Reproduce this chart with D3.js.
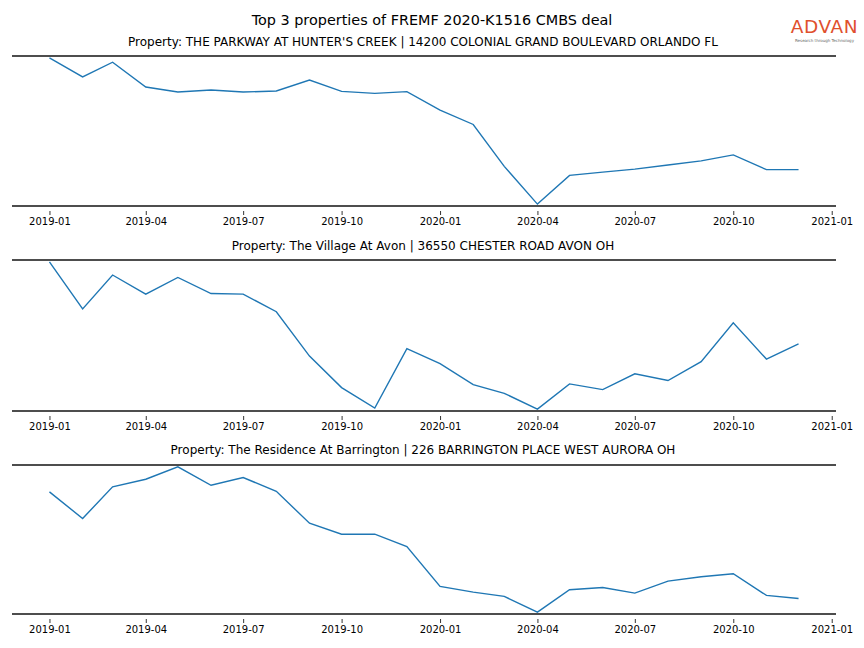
<!DOCTYPE html>
<html><head><meta charset="utf-8">
<script src="https://cdn.jsdelivr.net/npm/d3@7"></script>
<style>body{margin:0;background:#fff}svg{display:block}text{font-family:"DejaVu Sans",sans-serif}</style>
</head><body><svg id="c" width="864" height="648"></svg>
<script>
const mainTitle = "Top 3 properties of FREMF 2020-K1516 CMBS deal";
const months = ["2019-01","2019-02","2019-03","2019-04","2019-05","2019-06","2019-07","2019-08","2019-09","2019-10","2019-11","2019-12",
  "2020-01","2020-02","2020-03","2020-04","2020-05","2020-06","2020-07","2020-08","2020-09","2020-10","2020-11","2020-12"];
const tickLabels = ["2019-01","2019-04","2019-07","2019-10","2020-01","2020-04","2020-07","2020-10","2021-01"];
const titles = [
  "Property: THE PARKWAY AT HUNTER'S CREEK | 14200 COLONIAL GRAND BOULEVARD ORLANDO FL",
  "Property: The Village At Avon | 36550 CHESTER ROAD AVON OH",
  "Property: The Residence At Barrington | 226 BARRINGTON PLACE WEST AURORA OH"
];
// relative activity index
const parkway = [147.3,128.3,143,118.3,113.3,115.3,113.3,114.3,125.3,114,112,113.7,95.3,81,39.3,1.7,30.3,33.5,36.5,40.7,44.7,50.7,36,36];
const avon = [148.7,102,135.7,116.7,133.3,117.3,116.7,99.3,55.3,24,3.7,62.7,47.7,27,18.3,2.7,27.7,22,37.7,31,49.7,88.3,52.3,67.3];
const barrington = [121.7,95,126.7,134.3,146.7,128.3,136,122.3,90.3,79.3,79.3,67,27,21.3,17,1.3,23.7,26,20.3,32.3,36.7,39.7,18,15];
const seriesList = [parkway, avon, barrington];

const svg = d3.select("#c");
const parse = d3.timeParse("%Y-%m");
const dates = months.map(parse);
const t0 = dates[0], t1 = dates[dates.length-1];
const span = t1 - t0;
const x = d3.scaleTime().domain([new Date(+t0 - span*0.05), new Date(+t1 + span*0.05)]).range([12, 836]);

svg.append("text").attr("x",432).attr("y",25).attr("text-anchor","middle").attr("font-size",14.4).attr("fill","#000").text(mainTitle);

// logo
const logo = svg.append("g");
logo.append("text").attr("x",824.5).attr("y",33).attr("text-anchor","middle").attr("font-size",18.5).attr("font-family","Liberation Sans, Arial, sans-serif").attr("fill","#e0502d").attr("letter-spacing",0.6).text("ADVAN");
logo.append("text").attr("x",824.5).attr("y",41.5).attr("text-anchor","middle").attr("font-size",4).attr("fill","#666").text("Research through Technology");

const panels = [{top:56,bottom:206,ty:46},{top:260,bottom:411,ty:250},{top:465,bottom:614,ty:454}];
const tickDates = tickLabels.map(parse);

panels.forEach((p,i)=>{
  const vals = seriesList[i];
  const mn = d3.min(vals), mx = d3.max(vals), pad = (mx-mn)*0.013;
  const y = d3.scaleLinear().domain([mn-pad, mx+pad]).range([p.bottom, p.top]);
  const g = svg.append("g");
  g.append("text").attr("x",423).attr("y",p.ty).attr("text-anchor","middle").attr("font-size",12).attr("fill","#000").text(titles[i]);
  g.append("path").datum(vals).attr("fill","none").attr("stroke","#1f77b4").attr("stroke-width",1.4)
    .attr("d", d3.line().x((d,j)=>x(dates[j])).y(d=>y(d)));
  [p.top,p.bottom].forEach(yy=>g.append("line").attr("x1",12).attr("x2",836).attr("y1",yy).attr("y2",yy).attr("stroke","#4d4d4d").attr("stroke-width",1.8));
  const ax = g.append("g").attr("transform",`translate(0,${p.bottom+5})`)
    .call(d3.axisBottom(x).tickValues(tickDates).tickFormat(d3.timeFormat("%Y-%m")).tickSize(4).tickPadding(3));
  ax.select(".domain").remove();
  ax.selectAll(".tick line").attr("stroke","#000").attr("stroke-width",0.8);
  ax.selectAll(".tick text").attr("font-size",10).attr("fill","#000").attr("font-family","DejaVu Sans, sans-serif");
});
</script></body></html>
